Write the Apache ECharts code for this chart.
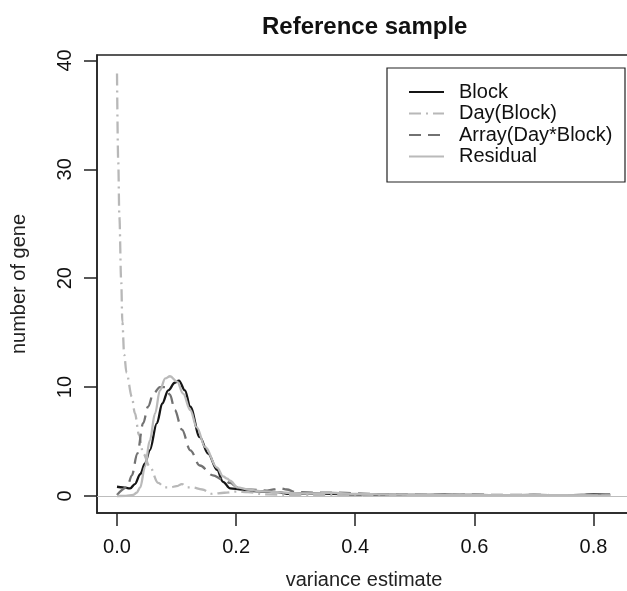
<!DOCTYPE html>
<html>
<head>
<meta charset="utf-8">
<script src="https://cdn.jsdelivr.net/npm/echarts@6/dist/echarts.min.js"></script>
<style>
  html, body { margin: 0; padding: 0; background: #fff; }
  #main { width: 627px; height: 591px; }
</style>
</head>
<body>
<div id="main"></div>
<script>
// density curves: [variance estimate, number of gene]
var blockPts = [[0.0,0.85],[0.01,0.8],[0.022,0.7],[0.03,1.1],[0.039,2.0],[0.047,3.0],[0.055,4.2],[0.067,6.7],[0.076,8.5],[0.086,9.7],[0.097,10.4],[0.104,10.6],[0.114,9.7],[0.123,8.2],[0.139,5.4],[0.153,3.9],[0.168,2.4],[0.178,1.3],[0.19,0.7],[0.21,0.6],[0.23,0.45],[0.27,0.35],[0.29,0.2],[0.32,0.25],[0.36,0.2],[0.4,0.15],[0.45,0.12],[0.5,0.1],[0.55,0.12],[0.6,0.1],[0.65,0.08],[0.7,0.1],[0.75,0.08],[0.78,0.1],[0.8,0.15],[0.828,0.12]];
var dayPts = [[0.0,38.8],[0.002,30.8],[0.004,25.6],[0.007,19.8],[0.009,16.0],[0.012,13.0],[0.016,11.3],[0.025,9.1],[0.03,7.6],[0.037,5.6],[0.044,3.9],[0.055,2.7],[0.069,1.2],[0.08,0.8],[0.089,0.8],[0.1,0.9],[0.109,1.1],[0.118,0.8],[0.126,0.8],[0.143,0.6],[0.16,0.2],[0.18,0.3],[0.2,0.4],[0.22,0.35],[0.25,0.15],[0.3,0.1],[0.35,0.1],[0.4,0.12],[0.5,0.06],[0.6,0.05],[0.7,0.05],[0.8,0.05],[0.828,0.03]];
var arrayPts = [[0.0,0.1],[0.017,0.8],[0.025,1.9],[0.034,3.9],[0.044,6.7],[0.052,8.2],[0.061,9.4],[0.072,10.0],[0.081,10.0],[0.089,9.3],[0.097,7.9],[0.109,6.1],[0.123,4.2],[0.139,2.8],[0.161,1.9],[0.178,1.5],[0.19,1.2],[0.202,0.8],[0.22,0.6],[0.252,0.5],[0.274,0.7],[0.285,0.6],[0.3,0.35],[0.34,0.3],[0.37,0.3],[0.4,0.25],[0.45,0.15],[0.5,0.12],[0.55,0.1],[0.6,0.12],[0.65,0.1],[0.7,0.1],[0.75,0.08],[0.8,0.1],[0.828,0.08]];
var residualPts = [[0.0,0.0],[0.015,0.02],[0.027,0.1],[0.033,0.3],[0.039,0.8],[0.047,2.7],[0.055,5.1],[0.064,7.6],[0.072,9.7],[0.081,10.8],[0.089,11.0],[0.101,10.5],[0.111,9.4],[0.123,7.9],[0.134,6.3],[0.148,4.5],[0.168,2.6],[0.178,1.8],[0.185,1.6],[0.19,1.4],[0.202,0.8],[0.22,0.6],[0.24,0.45],[0.27,0.35],[0.3,0.25],[0.34,0.25],[0.36,0.3],[0.4,0.2],[0.45,0.15],[0.5,0.1],[0.6,0.08],[0.7,0.08],[0.8,0.06],[0.828,0.05]];

var seriesNames = ['Block', 'Day(Block)', 'Array(Day*Block)', 'Residual'];
var xTicks = [0, 0.2, 0.4, 0.6, 0.8];
var yTicks = [0, 10, 20, 30, 40];

var font = "'Liberation Sans', Arial, Helvetica, sans-serif";
var chart = echarts.init(document.getElementById('main'));

function curve(name, pts, color, dash) {
    return {
        name: name,
        type: 'line',
        data: pts,
        symbol: 'none',
        legendIcon: 'none',
        smooth: 0.35,
        smoothMonotone: 'x',
        lineStyle: { color: color, width: 2.3, type: dash },
        itemStyle: { color: color },
        silent: true
    };
}

var series = [
    curve(seriesNames[0], blockPts, '#151515', 'solid'),
    curve(seriesNames[1], dayPts, '#b8b8b8', [12, 5, 2, 5]),
    curve(seriesNames[2], arrayPts, '#727272', [12, 7]),
    curve(seriesNames[3], residualPts, '#bababa', 'solid')
];
// horizontal reference line at zero
series[0].markLine = {
    silent: true,
    symbol: 'none',
    label: { show: false },
    lineStyle: { color: '#bdbdbd', width: 1, type: 'solid' },
    data: [{ yAxis: 0 }]
};

var option = {
    backgroundColor: '#fff',
    animation: false,
    textStyle: { fontFamily: font },
    title: {
        text: 'Reference sample',
        left: 257,
        top: 10,
        textStyle: { fontSize: 24, fontWeight: 'bold', color: '#111', fontFamily: font }
    },
    legend: {
        orient: 'vertical',
        left: 403,
        top: 77,
        itemWidth: 35,
        itemHeight: 14,
        itemGap: 1.5,
        selectedMode: false,
        itemStyle: { opacity: 0, borderWidth: 0 },
        textStyle: { fontSize: 20, color: '#111', fontFamily: font, padding: [0, 0, 0, 10] },
        data: seriesNames
    },
    graphic: [{
        type: 'rect',
        shape: { x: 387, y: 68, width: 238, height: 114 },
        style: { fill: 'none', stroke: '#222', lineWidth: 1.2 },
        silent: true
    }],
    grid: {
        left: 97, top: 55, right: -4, bottom: 78,
        show: true, borderColor: '#222', borderWidth: 1.5,
        outerBoundsMode: 'none',
        containLabel: false
    },
    xAxis: {
        type: 'value',
        min: -0.0336,
        max: 0.863,
        name: 'variance estimate',
        nameLocation: 'middle',
        nameGap: 57,
        nameTextStyle: { fontSize: 20, color: '#222', fontFamily: font },
        axisLine: { show: true, onZero: false, lineStyle: { color: '#222', width: 1.5 } },
        axisTick: { show: true, length: 13, inside: false, customValues: xTicks, lineStyle: { color: '#222', width: 1.5 } },
        axisLabel: {
            customValues: xTicks,
            margin: 24,
            fontSize: 20,
            color: '#111',
            fontFamily: font,
            formatter: function (v) { return v.toFixed(1); }
        },
        splitLine: { show: false }
    },
    yAxis: {
        type: 'value',
        min: -1.56,
        max: 40.5,
        name: 'number of gene',
        nameLocation: 'middle',
        nameGap: 68,
        nameTextStyle: { fontSize: 20, color: '#222', fontFamily: font },
        axisLine: { show: true, onZero: false, lineStyle: { color: '#222', width: 1.5 } },
        axisTick: { show: true, length: 13, inside: false, customValues: yTicks, lineStyle: { color: '#222', width: 1.5 } },
        axisLabel: {
            customValues: yTicks,
            rotate: 90,
            margin: 22,
            fontSize: 20,
            color: '#111',
            fontFamily: font
        },
        splitLine: { show: false }
    },
    series: series
};
chart.setOption(option);
</script>
</body>
</html>
